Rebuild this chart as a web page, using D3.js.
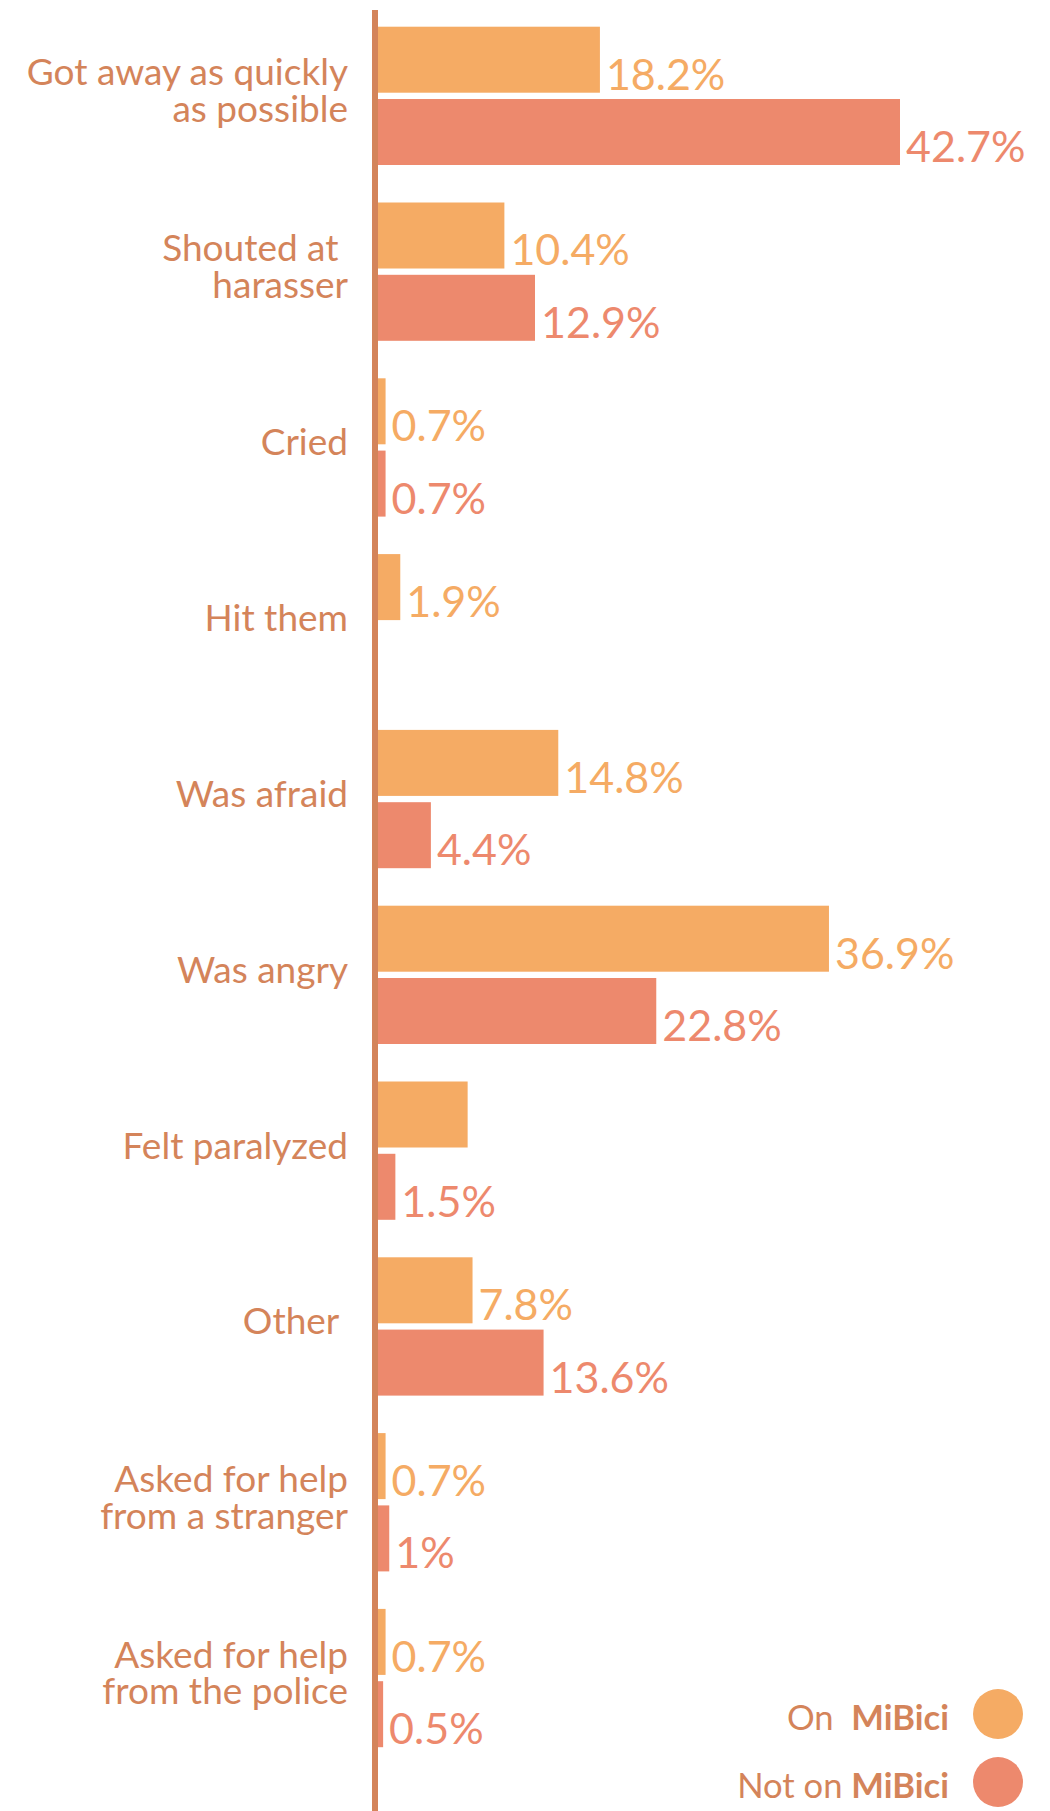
<!DOCTYPE html>
<html>
<head>
<meta charset="utf-8">
<script src="https://cdn.jsdelivr.net/npm/d3@7"></script>
<style>
  body { margin: 0; background: #fff; }
  svg { display: block; font-family: Lato, "Open Sans", sans-serif; }
  text { white-space: pre; }
</style>
</head>
<body>
<div id="chart"></div>
<script>
// Reactions to harassment, by whether it happened on MiBici
const categories = [
    ["Got away as quickly", "as possible"],
    ["Shouted at ", "harasser"],
    ["Cried"],
    ["Hit them"],
    ["Was afraid"],
    ["Was angry"],
    ["Felt paralyzed"],
    ["Other "],
    ["Asked for help", "from a stranger"],
    ["Asked for help", "from the police"]
];
const onValues  = [18.2, 10.4, 0.7, 1.9, 14.8, 36.9, 7.4, 7.8, 0.7, 0.7];
const notValues = [42.7, 12.9, 0.7, null, 4.4, 22.8, 1.5, 13.6, 1, 0.5];
// value labels as printed (one is missing in the original)
const onLabels  = ["18.2%", "10.4%", "0.7%", "1.9%", "14.8%", "36.9%", "", "7.8%", "0.7%", "0.7%"];
const notLabels = ["42.7%", "12.9%", "0.7%", "", "4.4%", "22.8%", "1.5%", "13.6%", "1%", "0.5%"];

const series = ["on", "not"];
const legendText = { on: "On  ", not: "Not on " };
const brand = "MiBici";

const colors = { on: "#f5ab64", not: "#ed896d" };
const brown = "#d4845a";

const width = 1050;
const height = 1811;

const keys = categories.map(c => c.join(" "));

const rows = categories.map((c, i) => ({
    key: keys[i],
    lines: c,
    values: [
        { s: "on", v: onValues[i], label: onLabels[i] },
        { s: "not", v: notValues[i], label: notLabels[i] }
    ]
}));

const svg = d3.select("#chart")
    .append("svg")
    .attr("width", width)
    .attr("height", height);

const x = d3.scaleLinear()
    .domain([0, 42.7])
    .range([377, 900]);

const y0 = d3.scaleBand()
    .domain(keys)
    .range([26.7, 1747.2])
    .paddingInner(0.2133)
    .paddingOuter(0);

const y1 = d3.scaleBand()
    .domain(series)
    .range([0, y0.bandwidth()])
    .paddingInner(0.087);

const groups = svg.append("g")
    .selectAll("g")
    .data(rows)
    .join("g")
    .attr("transform", d => `translate(0, ${y0(d.key)})`);

groups.selectAll("rect")
    .data(d => d.values.filter(v => v.v != null))
    .join("rect")
    .attr("x", x(0))
    .attr("y", d => y1(d.s))
    .attr("width", d => x(d.v) - x(0))
    .attr("height", y1.bandwidth())
    .attr("fill", d => colors[d.s]);

groups.selectAll("text.value")
    .data(d => d.values.filter(v => v.v != null && v.label))
    .join("text")
    .attr("class", "value")
    .attr("x", d => x(d.v) + 6)
    .attr("y", d => y1(d.s) + y1.bandwidth() - 3)
    .attr("fill", d => colors[d.s])
    .style("font-size", "43px")
    .text(d => d.label);

// category labels, right aligned next to the axis
const lineGap = 36.7;
groups.append("text")
    .attr("class", "cat")
    .attr("text-anchor", "end")
    .attr("fill", brown)
    .style("font-size", "37px")
    .selectAll("tspan")
    .data(d => d.lines.map((t, i) => ({ t, i, n: d.lines.length })))
    .join("tspan")
    .attr("x", 348)
    .attr("y", d => y0.bandwidth() / 2 + 8 + (d.i - (d.n - 1) / 2) * lineGap)
    .text(d => d.t);

// axis line
svg.append("line")
    .attr("x1", 375)
    .attr("x2", 375)
    .attr("y1", 10)
    .attr("y2", height)
    .attr("stroke", brown)
    .attr("stroke-width", 6);

// legend
const ly = d3.scalePoint()
    .domain(series)
    .range([1714, 1782]);

const legend = svg.append("g")
    .selectAll("g")
    .data(series)
    .join("g")
    .attr("transform", d => `translate(0, ${ly(d)})`);

legend.append("circle")
    .attr("cx", 998)
    .attr("cy", 0)
    .attr("r", 25)
    .attr("fill", d => colors[d]);

const lt = legend.append("text")
    .attr("x", 949)
    .attr("y", 16)
    .attr("text-anchor", "end")
    .attr("fill", brown)
    .style("font-size", "34.6px");

lt.append("tspan").text(d => legendText[d]);
lt.append("tspan").style("font-weight", "bold").text(brand);
</script>
</body>
</html>
